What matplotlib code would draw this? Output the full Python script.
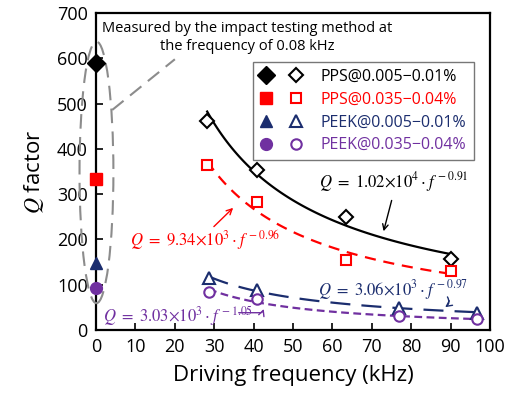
import matplotlib
matplotlib.use("Agg")
import matplotlib.pyplot as plt
from matplotlib.patches import Ellipse
from matplotlib.legend_handler import HandlerTuple
import numpy as np

plt.rcParams['font.family'] = ['Open Sans', 'DejaVu Sans']
plt.rcParams['mathtext.fontset'] = 'stix'

# values (Q factor vs driving frequency)
impact_freq = 0.0
impact_q = [590, 333, 148, 93]

pps_low_f = [28.2, 40.9, 63.5, 90.1]
pps_low_q = [462, 354, 249, 157]
pps_high_f = [28.2, 40.9, 63.5, 90.1]
pps_high_q = [365, 283, 155, 130]
peek_low_f = [28.7, 40.9, 77.0, 96.7]
peek_low_q = [114, 89, 49, 38]
peek_high_f = [28.7, 40.9, 77.0, 96.7]
peek_high_q = [83, 68, 31, 23]

labels = ['PPS@0.005\u22120.01%', 'PPS@0.035\u22120.04%',
          'PEEK@0.005\u22120.01%', 'PEEK@0.035\u22120.04%']
colors = ['black', '#ff0000', '#1b2d6e', '#7030a0']
markers = ['D', 's', '^', 'o']
fit_styles = ['-', (0, (5, 3.5)), (0, (9, 5)), (0, (3.5, 2))]


def power_fit(f, q):
    # Q = a * f^b, least squares on logs
    b, ln_a = np.polyfit(np.log(f), np.log(q), 1)
    return np.exp(ln_a), b


fig = plt.figure(figsize=(5.11, 3.97), dpi=100)
ax = fig.add_axes([0.188, 0.169, 0.771, 0.798])

series = [(pps_low_f, pps_low_q), (pps_high_f, pps_high_q),
          (peek_low_f, peek_low_q), (peek_high_f, peek_high_q)]
msizes_filled = [9, 8.5, 8, 8.5]
msizes_open = [7, 7.5, 8, 7.5]

handles = []
for i, (f, q) in enumerate(series):
    a, b = power_fit(f, q)
    xs = np.linspace(f[0], f[-1], 100)
    ax.plot(xs, a * xs ** b, color=colors[i], lw=1.6, linestyle=fit_styles[i])
    ax.plot(f, q, linestyle='none', marker=markers[i], ms=msizes_open[i],
            mfc='white', mec=colors[i], mew=1.5, zorder=4)
    h_filled, = ax.plot([impact_freq], [impact_q[i]], linestyle='none', marker=markers[i],
                        ms=msizes_filled[i], color=colors[i], clip_on=False, zorder=5)
    h_open, = ax.plot([], [], linestyle='none', marker=markers[i], ms=msizes_open[i],
                      mfc='white', mec=colors[i], mew=1.5)
    handles.append((h_filled, h_open))

# dashed ellipse round the impact-test points
ell = Ellipse((0.1, 348), width=8.6, height=578, fill=False, edgecolor='#8c8c8c',
              lw=1.5, linestyle=(0, (7, 4)), clip_on=False, zorder=3)
ax.add_patch(ell)
ax.plot([4.1, 20], [486, 598], color='#8c8c8c', lw=1.5, linestyle=(0, (7, 4)))
ax.text(38.3, 646, 'Measured by the impact testing method at\nthe frequency of 0.08 kHz',
        ha='center', va='center', fontsize=10.5, linespacing=1.2)

# fit equations
ax.text(56.5, 326, r'$Q\ =\ 1.02{\times}10^{4}\cdot f^{\,-0.91}$', fontsize=12,
        color='black', va='center')
ax.annotate('', xy=(72.8, 212), xytext=(75.2, 292),
            arrowprops=dict(arrowstyle='->', color='black', lw=1))
ax.text(8.6, 199, r'$Q\ =\ 9.34{\times}10^{3}\cdot f^{\,-0.96}$', fontsize=12,
        color='#ff0000', va='center')
ax.annotate('', xy=(35.3, 274), xytext=(29.4, 224),
            arrowprops=dict(arrowstyle='->', color='#ff0000', lw=1))
ax.text(56.3, 89, r'$Q\ =\ 3.06{\times}10^{3}\cdot f^{\,-0.97}$', fontsize=12,
        color='#1b2d6e', va='center')
ax.annotate('', xy=(88, 47), xytext=(88.8, 78),
            arrowprops=dict(arrowstyle='->', color='#1b2d6e', lw=1,
                            connectionstyle='arc3,rad=-0.6'))
ax.text(1.8, 31, r'$Q\ =\ 3.03{\times}10^{3}\cdot f^{\,-1.05}$', fontsize=12,
        color='#7030a0', va='center')
ax.annotate('', xy=(42.8, 52), xytext=(35.5, 38),
            arrowprops=dict(arrowstyle='->', color='#7030a0', lw=1,
                            connectionstyle='angle,angleA=0,angleB=70,rad=2'))

leg = ax.legend(handles, labels, handler_map={tuple: HandlerTuple(ndivide=None, pad=1.2)},
                loc='upper right', bbox_to_anchor=(0.958, 0.846), borderaxespad=0,
                fontsize=11.5, frameon=True, fancybox=False, edgecolor='#555555',
                handlelength=2.6, handletextpad=1.2, borderpad=0.45, labelspacing=0.42,
                labelcolor=colors)
leg.get_frame().set_linewidth(1.0)

ax.set_xlim(0, 100)
ax.set_ylim(0, 700)
ax.set_xticks(range(0, 101, 10))
ax.set_yticks(range(0, 701, 100))
ax.tick_params(direction='in', length=5, width=1.2, labelsize=13, pad=6)
for s in ax.spines.values():
    s.set_linewidth(1.6)

ax.set_xlabel('Driving frequency (kHz)', fontsize=16, labelpad=6)
ax.set_ylabel(r'$Q$ factor', fontsize=16, labelpad=8)

fig.savefig('out.png', dpi=100)
